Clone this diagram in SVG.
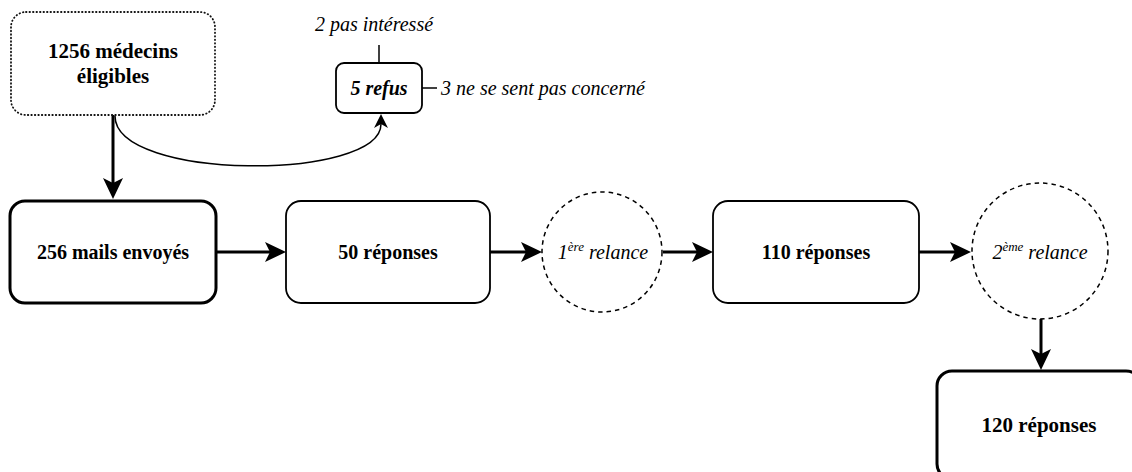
<svg xmlns="http://www.w3.org/2000/svg" width="1132" height="472" viewBox="0 0 1132 472">
<defs>
<style>
.box{fill:#fff;stroke:#000;stroke-width:1.8}
.thick{fill:#fff;stroke:#000;stroke-width:3}
.dot{fill:#fff;stroke:#111;stroke-width:1.8;stroke-dasharray:0.5 3;stroke-linecap:round}
.dash{fill:#fff;stroke:#000;stroke-width:1.5;stroke-dasharray:4.5 4}
text{font-family:"Liberation Serif","DejaVu Serif",serif}
.lbl{font-size:20px;font-weight:bold;fill:#000;text-anchor:middle}
.it{font-size:20px;font-style:italic;fill:#000}
.sup{font-size:13px}
.conn{fill:none;stroke:#000;stroke-width:3}
.thin{fill:none;stroke:#000;stroke-width:1.5}
</style>
<marker id="ah" markerUnits="userSpaceOnUse" markerWidth="22" markerHeight="20" refX="5" refY="10" orient="auto" overflow="visible">
<path d="M0,0 L21,10 L0,20 L5,10 z" fill="#000"/>
</marker>
<marker id="ahs" markerUnits="userSpaceOnUse" markerWidth="15" markerHeight="15" refX="4" refY="7" orient="auto" overflow="visible">
<path d="M0,0 L14,7 L0,14 L4,7 z" fill="#000"/>
</marker>
</defs>
<rect width="1132" height="472" fill="#fff"/>

<g id="connectors">
<path class="conn" d="M113,115 L113,183" marker-end="url(#ah)"/>
<path class="thin" d="M115,116 C115,181 381,181 381,124" marker-end="url(#ahs)"/>
<path class="conn" d="M216,252 L270,252" marker-end="url(#ah)"/>
<path class="conn" d="M490,252 L526,252" marker-end="url(#ah)"/>
<path class="conn" d="M663,252 L697,252" marker-end="url(#ah)"/>
<path class="conn" d="M919,252 L955,252" marker-end="url(#ah)"/>
<path class="conn" d="M1041,318 L1041,354" marker-end="url(#ah)"/>
<path class="thin" d="M379,45 L379,63"/>
<path class="thin" d="M422,88 L437,88"/>
</g>

<g id="n-eligibles">
<rect class="dot" x="11" y="12" width="204" height="103" rx="15"/>
<text class="lbl" x="113" y="58" font-family="Liberation Serif, serif" style="font-size:21px">1256 médecins</text>
<text class="lbl" x="113" y="83" font-family="Liberation Serif, serif" style="font-size:21px">éligibles</text>
</g>

<g id="n-refus">
<rect class="box" x="336" y="63" width="86" height="50" rx="8"/>
<text class="lbl" x="379" y="95" font-style="italic">5 refus</text>
</g>

<g id="t-pas-interesse">
<text class="it" x="374" y="31" text-anchor="middle">2 pas intéressé</text>
</g>

<g id="t-concerne">
<text class="it" x="441" y="95">3 ne se sent pas concerné</text>
</g>

<g id="n-mails">
<rect class="thick" x="10" y="201" width="206" height="102" rx="15"/>
<text class="lbl" x="113" y="259">256 mails envoyés</text>
</g>

<g id="n-50">
<rect class="box" x="286" y="201" width="204" height="102" rx="15"/>
<text class="lbl" x="388" y="259">50 réponses</text>
</g>

<g id="n-relance1">
<circle class="dash" cx="602" cy="252" r="60"/>
<text class="it" x="603" y="259" text-anchor="middle">1<tspan class="sup" dy="-8">ère</tspan><tspan dy="8"> relance</tspan></text>
</g>

<g id="n-110">
<rect class="box" x="713" y="201" width="206" height="102" rx="15"/>
<text class="lbl" x="816" y="259">110 réponses</text>
</g>

<g id="n-relance2">
<circle class="dash" cx="1040" cy="251" r="68"/>
<text class="it" x="1040" y="259" text-anchor="middle">2<tspan class="sup" dy="-8">ème</tspan><tspan dy="8"> relance</tspan></text>
</g>

<g id="n-120">
<rect class="thick" x="937" y="371" width="204" height="108" rx="15"/>
<text class="lbl" x="1039" y="432" style="font-size:21px">120 réponses</text>
</g>
</svg>
